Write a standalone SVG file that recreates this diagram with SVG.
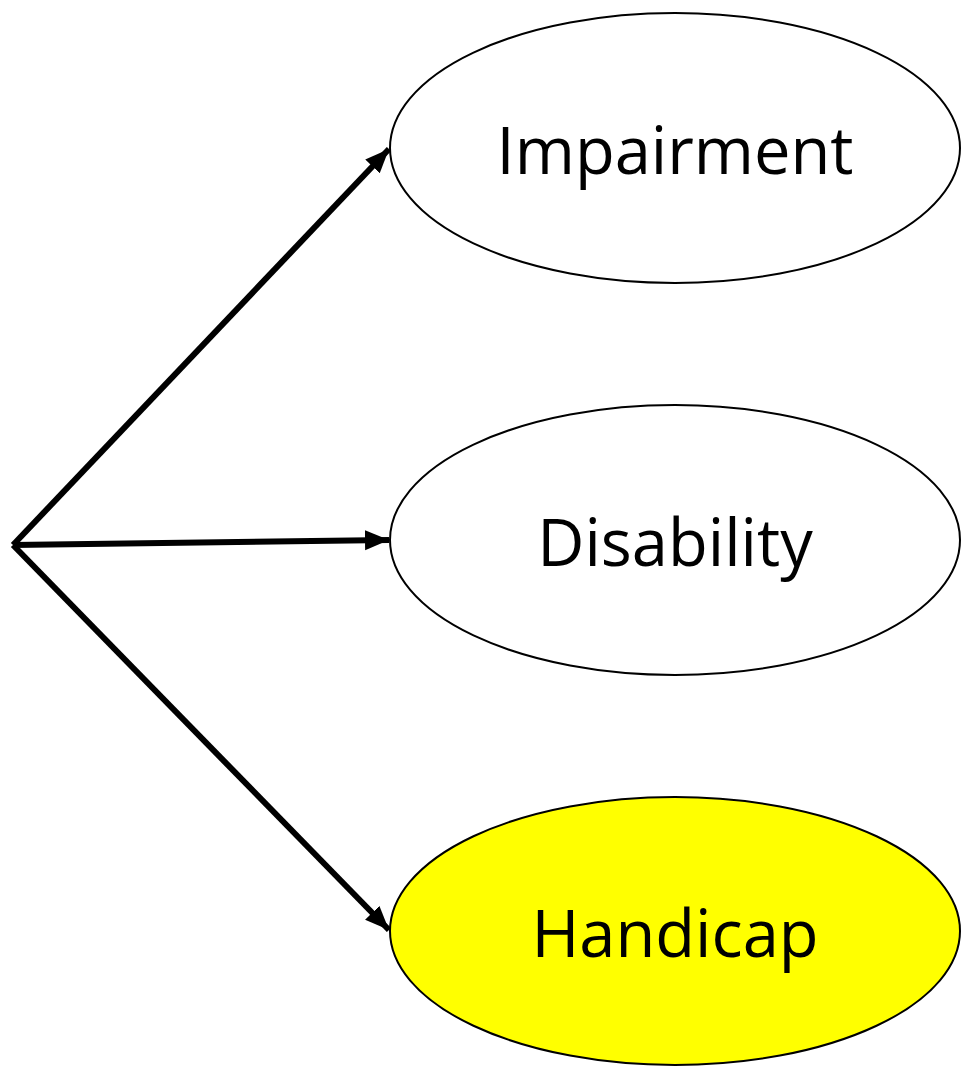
<svg xmlns="http://www.w3.org/2000/svg" width="961" height="1067" viewBox="0 0 961 1067">
  <style>
    .node ellipse { stroke: #000; stroke-width: 2; }
    .node text { font-family: "Open Sans", "Noto Sans", "Liberation Sans", sans-serif; font-size: 65px; fill: #000; text-anchor: middle; }
    .edge { stroke: #000; stroke-width: 6; fill: none; marker-end: url(#arrow); }
  </style>
  <defs>
    <marker id="arrow" markerUnits="userSpaceOnUse" markerWidth="26" markerHeight="22" refX="24" refY="11" orient="auto">
      <path d="M0,1 L24,11 L0,21 Z" fill="#000"/>
    </marker>
  </defs>
  <rect width="961" height="1067" fill="#fff"/>
  <g id="connectors">
    <line class="edge" x1="13" y1="545" x2="389" y2="149"/>
    <line class="edge" x1="13" y1="545" x2="389" y2="540"/>
    <line class="edge" x1="13" y1="545" x2="389" y2="930"/>
  </g>
  <g id="impairment" class="node">
    <ellipse cx="675" cy="148" rx="285" ry="135" fill="#fff"/>
    <text x="675" y="174">Impairment</text>
  </g>
  <g id="disability" class="node">
    <ellipse cx="675" cy="540" rx="285" ry="135" fill="#fff"/>
    <text x="675" y="566">Disability</text>
  </g>
  <g id="handicap" class="node">
    <ellipse cx="675" cy="931" rx="285" ry="134" fill="#ffff00"/>
    <text x="675" y="957">Handicap</text>
  </g>
</svg>
